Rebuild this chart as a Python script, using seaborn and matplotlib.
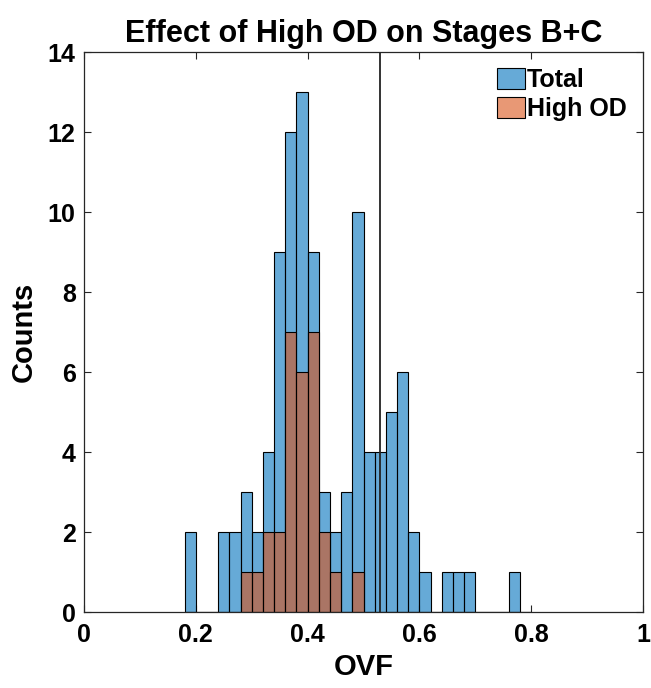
import numpy as np
import pandas as pd
import matplotlib
matplotlib.use("Agg")
import matplotlib.pyplot as plt
import seaborn as sns

# histogram bins (width 0.02, starting at 0.18)
bin_edges = [round(0.18 + 0.02 * i, 2) for i in range(32)]
total_counts = [2, 0, 0, 2, 2, 3, 2, 4, 9, 12, 13, 9, 3, 2, 3, 10,
                4, 4, 5, 6, 2, 1, 0, 1, 1, 1, 0, 0, 0, 1, 0]
highod_counts = [0, 0, 0, 0, 0, 1, 1, 2, 2, 7, 6, 7, 2, 1, 0, 1,
                 0, 0, 0, 0, 0, 0, 0, 0, 0, 0, 0, 0, 0, 0, 0]
threshold = 0.53

centers = [(a + b) / 2 for a, b in zip(bin_edges[:-1], bin_edges[1:])]
df = pd.DataFrame({"OVF": centers + centers,
                   "n": total_counts + highod_counts,
                   "group": ["Total"] * len(centers) + ["High OD"] * len(centers)})

sns.set_style("ticks")
plt.rcParams["font.family"] = ["Liberation Sans", "DejaVu Sans"]
plt.rcParams["font.weight"] = "bold"
plt.rcParams["text.color"] = "black"
plt.rcParams["axes.labelcolor"] = "black"
plt.rcParams["xtick.color"] = "#262626"
plt.rcParams["ytick.color"] = "#262626"
plt.rcParams["xtick.labelcolor"] = "black"
plt.rcParams["ytick.labelcolor"] = "black"

fig = plt.figure(figsize=(6.51, 6.88), dpi=100)
ax = fig.add_axes([84 / 651, 1 - 612 / 688, 559 / 651, 560 / 688])

blue = (0.0, 0.447, 0.741)
red = (0.85, 0.325, 0.098)
sns.histplot(data=df[df.group == "Total"], x="OVF", weights="n", bins=bin_edges,
             color=blue, alpha=0.6, edgecolor="black", linewidth=0.8, ax=ax, label="Total")
sns.histplot(data=df[df.group == "High OD"], x="OVF", weights="n", bins=bin_edges,
             color=red, alpha=0.6, edgecolor="black", linewidth=0.8, ax=ax, label="High OD")
ax.axvline(threshold, color="#222222", linewidth=1.3)

ax.set_xlim(0, 1)
ax.set_ylim(0, 14)
ax.set_xticks([0, 0.2, 0.4, 0.6, 0.8, 1])
ax.set_xticklabels(["0", "0.2", "0.4", "0.6", "0.8", "1"])
ax.set_yticks(range(0, 15, 2))
ax.tick_params(direction="in", top=True, right=True, labelsize=18, length=5, width=0.8)
ax.tick_params(axis="x", pad=8)
ax.tick_params(axis="y", pad=6)
for lab in ax.get_xticklabels() + ax.get_yticklabels():
    lab.set_fontweight("bold")
for s in ax.spines.values():
    s.set_linewidth(0.9)
    s.set_color("#262626")

ax.set_xlabel("OVF", fontsize=21, fontweight="bold", labelpad=4)
ax.set_ylabel("Counts", fontsize=21, fontweight="bold", labelpad=7)
ax.set_title("Effect of High OD on Stages B+C", fontsize=22, fontweight="bold", pad=7)

leg = ax.legend(loc="upper right", frameon=False, fontsize=18, handlelength=1.1,
                handleheight=0.9, handletextpad=0.1, borderaxespad=0.25, labelspacing=0.2)
for t in leg.get_texts():
    t.set_fontweight("bold")

fig.savefig("out.png", dpi=100)
